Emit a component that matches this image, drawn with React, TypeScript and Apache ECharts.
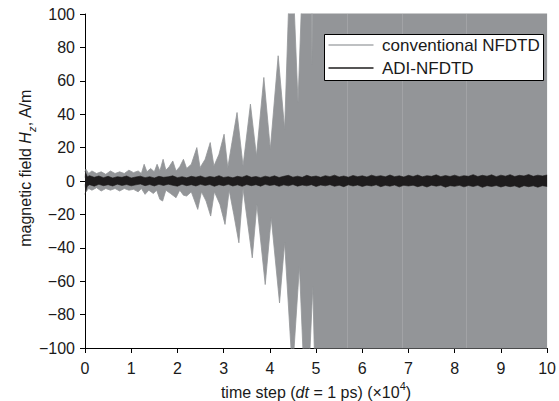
import { useEffect, useRef } from "react";
import * as echarts from "echarts";

const X_MIN = 0;
const X_MAX = 10;
const X_STEP = 1;
const Y_MIN = -100;
const Y_MAX = 100;
const Y_STEP = 20;

const SERIES_NAMES = ["conventional NFDTD", "ADI-NFDTD"];

// conventional NFDTD: upper / lower envelope of the oscillation, [time step ×1e4, A/m]
const conventionalUpper: [number, number][] = [
  [0, 2], [0.02, 7], [0.08, 4.5], [0.15, 6], [0.25, 4.5], [0.35, 5.5], [0.45, 4], [0.55, 6],
  [0.65, 4.5], [0.75, 5.5], [0.85, 4.5], [0.95, 6.5], [1.05, 5], [1.15, 6], [1.22, 4.5], [1.28, 10],
  [1.34, 5.5], [1.42, 7.5], [1.5, 5.5], [1.56, 10], [1.62, 6], [1.69, 13], [1.75, 6.5], [1.82, 8.5],
  [1.9, 12], [1.97, 6], [2.05, 8.5], [2.13, 13], [2.2, 7.5], [2.3, 10], [2.42, 20], [2.49, 8],
  [2.6, 13], [2.71, 23], [2.79, 9], [2.9, 16], [3.01, 28], [3.09, 8], [3.18, 23], [3.29, 41],
  [3.42, 9], [3.58, 46], [3.71, 15], [3.87, 62], [4.01, 19], [4.18, 75], [4.32, 31], [4.46, 150],
  [4.61, 47], [4.69, 110], [4.9, 110], [4.91, 70], [4.925, 110], [10, 110],
];
const conventionalLower: [number, number][] = [
  [0, -2], [0.02, -6.5], [0.08, -4.5], [0.15, -5.5], [0.25, -4], [0.35, -6], [0.45, -4.5], [0.55, -5.5],
  [0.65, -4.5], [0.75, -6], [0.85, -4.5], [0.95, -5.5], [1.05, -5], [1.15, -6.5], [1.22, -4.5], [1.3, -8],
  [1.38, -5.5], [1.48, -7.5], [1.55, -5.5], [1.62, -11], [1.68, -12], [1.75, -5.5], [1.85, -7.5], [1.97, -10],
  [2.05, -5.5], [2.13, -8.5], [2.2, -9], [2.3, -6.5], [2.44, -17], [2.52, -6.5], [2.62, -12], [2.72, -21],
  [2.8, -6.5], [2.92, -14], [3.03, -26], [3.12, -5.5], [3.22, -20], [3.33, -37], [3.42, -4.5], [3.62, -46],
  [3.72, -14], [3.9, -62], [4.03, -22], [4.21, -73], [4.32, -37], [4.49, -115], [4.64, -51],
  [4.79, -150], [4.93, -63], [4.97, -110], [10, -110],
];

// ADI-NFDTD: upper / lower envelope of the small residual noise
const adiUpper: [number, number][] = [
  [0, 6], [0.05, 2.5], [0.1, 3.2], [0.2, 2.2], [0.3, 3], [0.4, 2], [0.5, 2.8], [0.6, 1.8], [0.7, 2.6],
  [0.8, 2.2], [0.9, 3], [1.0, 1.8], [1.1, 2.4], [1.2, 2.9], [1.3, 2], [1.4, 2.6], [1.5, 1.8], [1.6, 2.8],
  [1.7, 2.2], [1.8, 2.5], [1.9, 3.1], [2.0, 2], [2.1, 2.6], [2.2, 1.9], [2.3, 2.8], [2.4, 2.3], [2.5, 3],
  [2.6, 2], [2.7, 2.7], [2.8, 2.2], [2.9, 3.2], [3.0, 2.1], [3.1, 2.6], [3.2, 1.9], [3.3, 2.8], [3.4, 2.3],
  [3.5, 3.3], [3.6, 2.2], [3.7, 2.7], [3.8, 2], [3.9, 2.9], [4.0, 2.3], [4.1, 3.1], [4.2, 2.1], [4.3, 2.8],
  [4.4, 3.4], [4.5, 2.3], [4.6, 2.9], [4.7, 2.2], [4.8, 3.4], [4.9, 2.5], [5.0, 3], [5.1, 2.2], [5.2, 3.2],
  [5.3, 2.6], [5.4, 3.5], [5.5, 2.4], [5.6, 3], [5.7, 2.3], [5.8, 3.3], [5.9, 2.6], [6.0, 3.1], [6.1, 2.4],
  [6.2, 3.5], [6.3, 2.7], [6.4, 3.2], [6.5, 2.5], [6.6, 3.6], [6.7, 2.6], [6.8, 3.1], [6.9, 2.4], [7.0, 3.4],
  [7.1, 2.7], [7.2, 3.6], [7.3, 2.5], [7.4, 3.2], [7.5, 2.8], [7.6, 3.7], [7.7, 2.6], [7.8, 3.3], [7.9, 2.7],
  [8.0, 3.5], [8.1, 2.6], [8.2, 3.2], [8.3, 2.8], [8.4, 3.8], [8.5, 2.7], [8.6, 3.4], [8.7, 2.9], [8.8, 3.7],
  [8.9, 2.6], [9.0, 3.5], [9.1, 2.9], [9.2, 3.8], [9.3, 2.7], [9.4, 3.4], [9.5, 3], [9.6, 3.9], [9.7, 2.8],
  [9.8, 3.5], [9.9, 3], [10, 3.6],
];
const adiLower: [number, number][] = [
  [0, -8], [0.05, -3], [0.1, -2.2], [0.2, -3.1], [0.3, -2], [0.4, -2.8], [0.5, -2.2], [0.6, -3], [0.7, -1.9],
  [0.8, -2.7], [0.9, -2.1], [1.0, -2.9], [1.1, -2.3], [1.2, -1.8], [1.3, -2.8], [1.4, -2.1], [1.5, -3], [1.6, -2],
  [1.7, -2.7], [1.8, -1.9], [1.9, -2.6], [2.0, -3.1], [2.1, -2], [2.2, -2.8], [2.3, -2.2], [2.4, -3], [2.5, -2],
  [2.6, -2.7], [2.7, -2.1], [2.8, -3.2], [2.9, -2.2], [3.0, -2.8], [3.1, -2], [3.2, -3], [3.3, -2.3], [3.4, -3.2],
  [3.5, -2.1], [3.6, -2.8], [3.7, -2.2], [3.8, -3.1], [3.9, -2], [4.0, -2.7], [4.1, -2.2], [4.2, -3.2], [4.3, -2.3],
  [4.4, -2.9], [4.5, -2.1], [4.6, -3.1], [4.7, -2.4], [4.8, -2.9], [4.9, -2.2], [5.0, -3.3], [5.1, -2.4], [5.2, -2.9],
  [5.3, -2.2], [5.4, -3.2], [5.5, -2.5], [5.6, -3.4], [5.7, -2.3], [5.8, -3], [5.9, -2.4], [6.0, -3.3], [6.1, -2.5],
  [6.2, -3], [6.3, -2.3], [6.4, -3.4], [6.5, -2.6], [6.6, -3.1], [6.7, -2.4], [6.8, -3.5], [6.9, -2.6], [7.0, -3],
  [7.1, -2.5], [7.2, -3.4], [7.3, -2.7], [7.4, -3.6], [7.5, -2.5], [7.6, -3.1], [7.7, -2.6], [7.8, -3.7], [7.9, -2.8],
  [8.0, -3.2], [8.1, -2.6], [8.2, -3.5], [8.3, -2.7], [8.4, -3.3], [8.5, -2.6], [8.6, -3.8], [8.7, -2.8], [8.8, -3.3],
  [8.9, -2.7], [9.0, -3.6], [9.1, -2.8], [9.2, -3.4], [9.3, -2.9], [9.4, -3.9], [9.5, -2.8], [9.6, -3.4], [9.7, -2.9],
  [9.8, -3.7], [9.9, -2.8], [10, -3.3],
];

// faint vertical streaks visible inside the saturated region
const streakX = [5.68, 6.87, 8.25];

const FONT = "'Liberation Sans', Arial, Helvetica, sans-serif";
const GRAY = "#939598";
const GRAY_LEGEND = "#a9abae";
const BLACK = "#1e1c1d";
const TEXT = "#1a1a1a";

export default function App() {
  const ref = useRef<HTMLDivElement>(null);

  useEffect(() => {
    const chart = echarts.init(ref.current!, null, { renderer: "svg" });

    const band = (name: string, data: [number, number][], color: string, z: number, width: number, extra: any = {}) => ({
      name,
      type: "line",
      data,
      symbol: "none",
      showSymbol: false,
      clip: true,
      z,
      lineStyle: { color, width },
      itemStyle: { color },
      areaStyle: { color, opacity: 1 },
      emphasis: { disabled: true },
      ...extra,
    });

    const LX = 324.5;
    const LY = 34.5;

    chart.setOption({
      animation: false,
      backgroundColor: "#ffffff",
      textStyle: { fontFamily: FONT },
      grid: { left: 85, right: 11, top: 14, bottom: 53, containLabel: false },
      xAxis: {
        type: "value",
        min: X_MIN,
        max: X_MAX,
        interval: X_STEP,
        axisLine: { show: true, onZero: false, lineStyle: { color: "#000", width: 1 } },
        axisTick: { show: true, length: 5, lineStyle: { color: "#000", width: 1 } },
        axisLabel: { fontSize: 16, color: TEXT, margin: 12, fontFamily: FONT },
        splitLine: { show: false },
      },
      yAxis: {
        type: "value",
        min: Y_MIN,
        max: Y_MAX,
        interval: Y_STEP,
        axisLine: { show: true, onZero: false, lineStyle: { color: "#000", width: 1 } },
        axisTick: { show: true, length: 5, lineStyle: { color: "#000", width: 1 } },
        axisLabel: {
          fontSize: 16,
          color: TEXT,
          margin: 10,
          fontFamily: FONT,
          formatter: (v: number) => String(v).replace("-", "\u2212"),
        },
        splitLine: { show: false },
      },
      graphic: [
        {
          type: "rect",
          z: 100,
          shape: { x: LX, y: LY, width: 219, height: 46 },
          style: { fill: "#ffffff", stroke: "#000000", lineWidth: 1 },
        },
        {
          type: "line",
          z: 101,
          shape: { x1: LX + 4, y1: LY + 10.5, x2: LX + 49, y2: LY + 10.5 },
          style: { stroke: GRAY_LEGEND, lineWidth: 1.5 },
        },
        {
          type: "text",
          z: 101,
          x: LX + 57.5,
          y: LY + 10.5,
          style: { text: SERIES_NAMES[0], fontSize: 17, fontFamily: FONT, fill: TEXT, verticalAlign: "middle" },
        },
        {
          type: "line",
          z: 101,
          shape: { x1: LX + 4, y1: LY + 33.5, x2: LX + 49, y2: LY + 33.5 },
          style: { stroke: BLACK, lineWidth: 1.5 },
        },
        {
          type: "text",
          z: 101,
          x: LX + 57.5,
          y: LY + 33.5,
          style: { text: SERIES_NAMES[1], fontSize: 17, fontFamily: FONT, fill: TEXT, verticalAlign: "middle" },
        },
        {
          type: "text",
          x: 316,
          y: 390,
          z: 100,
          style: {
            text: "{a|time step (}{i|dt}{a| = 1 ps) (\u00d710}{s|4}{a|)}",
            align: "center",
            verticalAlign: "middle",
            rich: {
              a: { fontSize: 16, fontFamily: FONT, fill: TEXT, lineHeight: 20, verticalAlign: "bottom" },
              i: { fontSize: 16, fontFamily: FONT, fontStyle: "italic", fill: TEXT, lineHeight: 20, verticalAlign: "bottom" },
              s: { fontSize: 11, fontFamily: FONT, fill: TEXT, lineHeight: 20, verticalAlign: "top" },
            },
          },
        },
        {
          type: "text",
          x: 27,
          y: 168,
          z: 100,
          rotation: Math.PI / 2,
          style: {
            text: "{a|magnetic field }{i|H}{s|z}{a|, A/m}",
            align: "center",
            verticalAlign: "middle",
            rich: {
              a: { fontSize: 16, fontFamily: FONT, fill: TEXT, lineHeight: 20, verticalAlign: "top" },
              i: { fontSize: 16, fontFamily: FONT, fontStyle: "italic", fill: TEXT, lineHeight: 20, verticalAlign: "top" },
              s: { fontSize: 11, fontFamily: FONT, fontStyle: "italic", fill: TEXT, lineHeight: 20, verticalAlign: "bottom" },
            },
          },
        },
      ],
      series: [
        band(SERIES_NAMES[0], conventionalUpper, GRAY, 1, 0.8),
        band(SERIES_NAMES[0], conventionalLower, GRAY, 1, 0.8, {
          markLine: {
            silent: true,
            z: 2,
            symbol: "none",
            label: { show: false },
            lineStyle: { color: "#a2a3a6", width: 1, type: "solid" },
            data: streakX.map((x) => ({ xAxis: x })),
          },
        }),
        band(SERIES_NAMES[1], adiUpper, BLACK, 3, 0.6),
        band(SERIES_NAMES[1], adiLower, BLACK, 3, 0.6),
      ],
    });

    return () => chart.dispose();
  }, []);

  return (
    <div
      ref={ref}
      style={{ position: "fixed", left: 0, top: 0, width: 559, height: 401 }}
    />
  );
}
